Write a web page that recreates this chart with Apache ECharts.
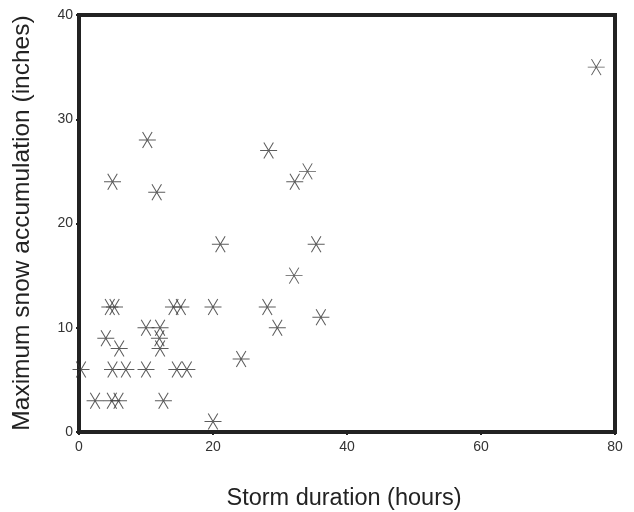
<!DOCTYPE html>
<html><head><meta charset="utf-8">
<script src="https://cdn.jsdelivr.net/npm/echarts@6/dist/echarts.min.js"></script>
<style>html,body{margin:0;padding:0;background:#fff}#c{width:634px;height:512px}</style>
</head><body><div id="c"></div>
<script>
var durationHours = [0.3, 2.4, 4.9, 5.9, 4.6, 5.3, 4.0, 6.0, 5.0, 7.0, 10.0, 10.0, 12.1, 12.0, 12.1, 12.6, 14.1, 15.2, 14.6, 16.1, 20.0, 20.0, 21.1, 24.2, 10.2, 5.0, 11.6, 28.3, 32.2, 34.1, 35.4, 32.1, 28.1, 29.6, 36.1, 77.2];
var snowInches   = [6, 3, 3, 3, 12, 12, 9, 8, 6, 6, 6, 10, 10, 9, 8, 3, 12, 12, 6, 6, 12, 1, 18, 7, 28, 24, 23, 27, 24, 25, 18, 15, 12, 10, 11, 35];
var xTicks = [0, 20, 40, 60, 80];
var yTicks = [0, 10, 20, 30, 40];
var xTitle = 'Storm duration (hours)';
var yTitle = 'Maximum snow accumulation (inches)';

var pts = durationHours.map(function (d, i) { return [d, snowInches[i]]; });
var chart = echarts.init(document.getElementById('c'));
var font = 'Liberation Sans, Arial, sans-serif';
chart.setOption({
  animation: false,
  grid: { left: 79, right: 19, top: 15, bottom: 80, show: true, borderColor: '#222', borderWidth: 4, backgroundColor: 'transparent' },
  graphic: [
    { type: 'text', x: 344, y: 499,
      style: { text: xTitle, fontFamily: font, fontSize: 23.5, fill: '#222', align: 'center', verticalAlign: 'middle' } },
    { type: 'text', x: 22, y: 223, rotation: Math.PI / 2,
      style: { text: yTitle, fontFamily: font, fontSize: 24.5, fill: '#222', align: 'center', verticalAlign: 'middle' } }
  ],
  xAxis: {
    type: 'value', min: xTicks[0], max: xTicks[xTicks.length - 1], interval: 20,
    axisLine: { show: false }, splitLine: { show: false },
    axisTick: { show: true, length: 3, lineStyle: { color: '#222', width: 2 } },
    axisLabel: { fontFamily: font, fontSize: 14, color: '#333', margin: 8 }
  },
  yAxis: {
    type: 'value', min: yTicks[0], max: yTicks[yTicks.length - 1], interval: 10,
    axisLine: { show: false }, splitLine: { show: false },
    axisTick: { show: true, length: 3, lineStyle: { color: '#222', width: 2 } },
    axisLabel: { fontFamily: font, fontSize: 14, color: '#333', margin: 6 }
  },
  series: [{
    type: 'scatter',
    data: pts,
    symbol: 'path://M0,8 L16,8 M3.5,0.5 L12.5,15.5 M12.5,0.5 L3.5,15.5',
    symbolSize: [17, 16],
    itemStyle: { color: 'rgba(0,0,0,0)', borderColor: '#333', borderWidth: 1 }
  }]
});
</script></body></html>
